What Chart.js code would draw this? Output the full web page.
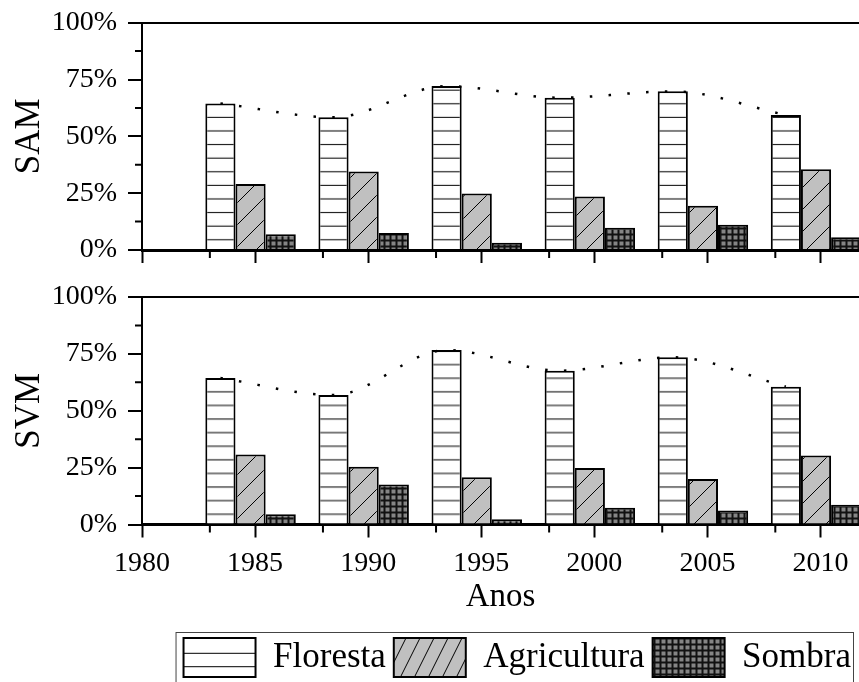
<!DOCTYPE html>
<html>
<head>
<meta charset="utf-8">
<script src="https://cdn.jsdelivr.net/npm/chart.js@4.4.1/dist/chart.umd.min.js"></script>
<style>
  html, body { margin: 0; padding: 0; background: #fff; overflow: hidden; }
  #samBox { position: absolute; left: 0; top: 0; width: 859px; height: 272px; }
  #svmBox { position: absolute; left: 0; top: 272px; width: 859px; height: 415px; }
</style>
</head>
<body>
<div id="samBox"><canvas id="sam"></canvas></div>
<div id="svmBox"><canvas id="svm"></canvas></div>
<script>
var years = [1985, 1990, 1995, 2000, 2005, 2010];
var seriesNames = ['Floresta', 'Agricultura', 'Sombra'];

var samFloresta = [64.5, 58.4, 72.1, 67.0, 69.8, 59.4];
var samAgricultura = [29.0, 34.5, 24.9, 23.5, 19.5, 35.5];
var samSombra = [6.9, 7.5, 3.2, 9.8, 11.1, 5.6];

var svmFloresta = [64.4, 56.9, 76.7, 67.6, 73.5, 60.6];
var svmAgricultura = [30.8, 25.4, 20.8, 24.8, 20.0, 30.3];
var svmSombra = [4.5, 17.6, 2.3, 7.4, 6.1, 8.7];

var yTicks = [0, 25, 50, 75, 100];
var yMinor = [12.5, 37.5, 62.5, 87.5];
var xTicks = [1980, 1985, 1990, 1995, 2000, 2005, 2010];
var xMinor = [1983, 1988, 1993, 1998, 2003, 2008];

Chart.defaults.font.family = "'Liberation Serif', 'Times New Roman', serif";
Chart.defaults.color = '#000';
Chart.defaults.animation = false;

var groupPct = 0.8;                                   // 3 bars fill 80% of a 5 year slot
var groupShift = -0.2;                                // groups sit a bit left of the tick
var florestaShift = groupShift - 5 * groupPct / 3;    // centre of first bar of a group

// small tiles for the hatch fills
function tile(w, h, draw) {
  var c = document.createElement('canvas');
  c.width = w; c.height = h;
  draw(c.getContext('2d'), w, h);
  return c;
}
function hlines(spacing, h, first) {
  return tile(4, h, function (g, w) {
    g.fillStyle = '#fff'; g.fillRect(0, 0, w, h);
    g.fillStyle = '#000';
    for (var y = first; y < h; y += spacing) g.fillRect(0, y - 0.5, w, 1);
  });
}
function diag(w, h) {
  return tile(w, h, function (g) {
    g.fillStyle = '#c0c0c0'; g.fillRect(0, 0, w, h);
    g.strokeStyle = '#000'; g.lineWidth = 1;
    g.beginPath();
    for (var k = -1; k <= 1; k++) { g.moveTo(k * w, h); g.lineTo(k * w + w, 0); }
    g.stroke();
  });
}
function grid() {
  return tile(6, 6, function (g) {
    g.fillStyle = '#111'; g.fillRect(0, 0, 6, 6);
    g.fillStyle = '#858585'; g.fillRect(1.5, 1.5, 4, 4);
  });
}
var pctx = document.createElement('canvas').getContext('2d');
var patternsById = {};

var minorTicks = {
  id: 'minorTicks',
  afterDraw: function (chart) {
    var ctx = chart.ctx, a = chart.chartArea, x = chart.scales.x, y = chart.scales.y;
    ctx.save();
    ctx.strokeStyle = '#000'; ctx.lineWidth = 2;
    ctx.beginPath();
    xMinor.forEach(function (v) {
      var px = x.getPixelForValue(v);
      ctx.moveTo(px, a.bottom); ctx.lineTo(px, a.bottom + 8);
    });
    yMinor.forEach(function (v) {
      var py = y.getPixelForValue(v);
      ctx.moveTo(a.left - 7, py); ctx.lineTo(a.left, py);
    });
    ctx.stroke();
    ctx.restore();
  }
};

var anchorPatterns = {
  id: 'anchorPatterns',
  beforeDraw: function (chart) {
    var p = patternsById[chart.canvas.id];
    p.floresta.setTransform(new DOMMatrix([1, 0, 0, 1, 0, chart.chartArea.bottom - 10.3 - 6.8]));
    if (chart.legend && chart.legend.legendHitBoxes && chart.legend.legendHitBoxes.length) {
      var top = chart.legend.legendHitBoxes[0].top;
      p.legendFloresta.setTransform(new DOMMatrix([1, 0, 0, 1, 0, top]));
      p.legendAgri.setTransform(new DOMMatrix([1, 0, 0, 1, 0, top]));
    }
  }
};

var legendFrame = {
  id: 'legendFrame',
  afterDraw: function (chart) {
    if (!chart.options.plugins.legend.display) return;
    var boxes = chart.legend && chart.legend.legendHitBoxes;
    if (!boxes || !boxes.length) return;
    var first = boxes[0], last = boxes[boxes.length - 1];
    var ctx = chart.ctx;
    var left = first.left - 7.5, top = first.top - 5.5;
    var right = Math.min(last.left + last.width + 2.5, chart.width - 1.5);
    ctx.save();
    ctx.strokeStyle = '#444'; ctx.lineWidth = 1;
    ctx.strokeRect(left, top, right - left, chart.height - top + 10);
    ctx.restore();
  }
};

function makeChart(id, title, floresta, agricultura, sombra, bottomPanel) {
  var patterns = {
    floresta: pctx.createPattern(hlines(13.6, 68, 6.8), 'repeat'),
    agri: pctx.createPattern(diag(22, 22), 'repeat'),
    sombra: pctx.createPattern(grid(), 'repeat'),
    legendFloresta: pctx.createPattern(hlines(13.4, 39, 15.3), 'repeat'),
    legendAgri: pctx.createPattern(diag(14, 28), 'repeat')
  };
  patternsById[id] = patterns;
  var legendFills = [patterns.legendFloresta, patterns.legendAgri, patterns.sombra];
  var values = [floresta, agricultura, sombra];
  var fills = [patterns.floresta, patterns.agri, patterns.sombra];

  var datasets = seriesNames.map(function (name, s) {
    return {
      label: name,
      data: years.map(function (yr, i) { return { x: yr + groupShift, y: values[s][i] }; }),
      backgroundColor: fills[s],
      borderColor: '#000',
      borderWidth: 2,
      borderSkipped: 'start',
      categoryPercentage: groupPct,
      barPercentage: 1,
      order: 1
    };
  });
  datasets.push({
    type: 'line',
    label: 'tendência',
    data: years.map(function (yr, i) { return { x: yr + florestaShift, y: floresta[i] }; }),
    borderColor: '#000',
    borderWidth: 2.5,
    borderDash: [2.5, 16.3],
    cubicInterpolationMode: 'monotone',
    pointRadius: 0,
    fill: false,
    order: 0
  });

  return new Chart(document.getElementById(id), {
    type: 'bar',
    data: { datasets: datasets },
    plugins: [anchorPatterns, minorTicks, legendFrame],
    options: {
      responsive: true,
      maintainAspectRatio: false,
      layout: { padding: { top: bottomPanel ? 25 : 22.7, left: 0, right: 0, bottom: 0 } },
      plugins: {
        tooltip: { enabled: false },
        legend: {
          display: bottomPanel,
          position: 'bottom',
          align: 'end',
          labels: {
            font: { size: 35 },
            boxWidth: 72,
            boxHeight: 39,
            padding: 8,
            generateLabels: function (ch) {
              var items = Chart.defaults.plugins.legend.labels.generateLabels(ch);
              return items.filter(function (it) { return it.datasetIndex < 3; }).map(function (it) {
                it.fillStyle = legendFills[it.datasetIndex];
                it.strokeStyle = '#000';
                it.lineWidth = 2;
                return it;
              });
            }
          }
        }
      },
      scales: {
        x: {
          type: 'linear',
          min: 1980,
          max: 2011.7,
          offset: false,
          afterBuildTicks: function (s) { s.ticks = xTicks.map(function (v) { return { value: v }; }); },
          afterFit: function (s) { s.height = bottomPanel ? 105.5 : 22; },
          border: { display: true, color: '#000', width: 3 },
          grid: { drawOnChartArea: false, offset: false, tickLength: 13, tickWidth: 2, tickColor: '#000' },
          ticks: {
            display: bottomPanel,
            autoSkip: false,
            maxRotation: 0,
            padding: 9,
            font: { size: 28 },
            callback: function (v) { return String(v); }
          },
          title: {
            display: bottomPanel,
            text: 'Anos',
            font: { size: 33 },
            padding: { top: 0, bottom: 13 }
          }
        },
        y: {
          min: 0,
          max: 100,
          afterBuildTicks: function (s) { s.ticks = yTicks.map(function (v) { return { value: v }; }); },
          afterFit: function (s) {
            s.width = 142;
            s.paddingTop = 0;      // let the layout padding alone place the plot
            s.paddingBottom = 0;
          },
          border: { display: true, color: '#000', width: 2 },
          grid: {
            drawOnChartArea: true,
            color: function (c) { return c.tick && c.tick.value === 100 ? '#000' : 'rgba(0,0,0,0)'; },
            lineWidth: 2,
            tickLength: 14,
            tickWidth: 2,
            tickColor: '#000'
          },
          ticks: {
            padding: 11,
            font: { size: 28 },
            callback: function (v) { return v + '%'; }
          },
          title: {
            display: true,
            text: title,
            font: { size: 35 },
            padding: { top: 9, bottom: 0 }
          }
        }
      }
    }
  });
}

makeChart('sam', 'SAM', samFloresta, samAgricultura, samSombra, false);
makeChart('svm', 'SVM', svmFloresta, svmAgricultura, svmSombra, true);
</script>
</body>
</html>
